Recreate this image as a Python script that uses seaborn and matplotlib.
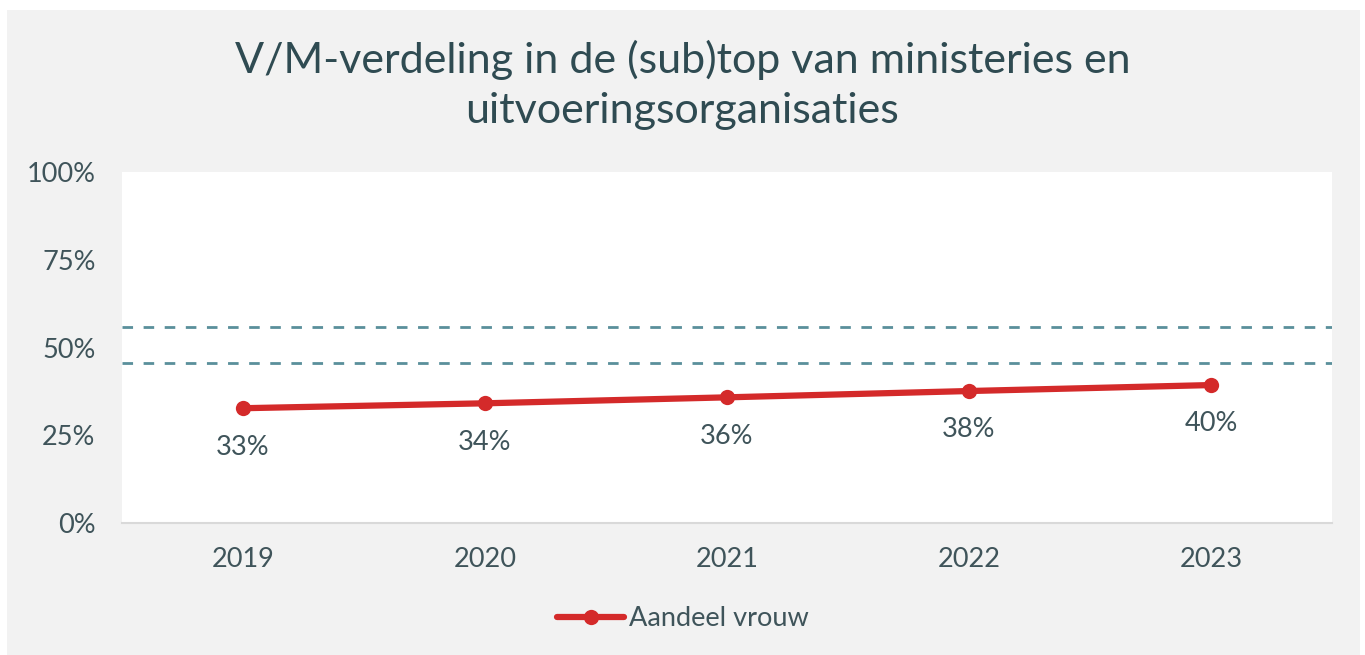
import matplotlib
matplotlib.use("Agg")
import matplotlib.pyplot as plt
import seaborn as sns
import pandas as pd
from matplotlib.patches import Rectangle

years = ["2019", "2020", "2021", "2022", "2023"]
share_women = [32.7, 34.1, 35.8, 37.6, 39.3]
value_labels = ["33%", "34%", "36%", "38%", "40%"]
band_lines = [45.7, 55.7]
y_ticks = [0, 25, 50, 75, 100]
series_name = "Aandeel vrouw"
title = "V/M-verdeling in de (sub)top van ministeries en\nuitvoeringsorganisaties"

sns.set_style("white")
plt.rcParams['font.family'] = ['Lato', 'DejaVu Sans']

TEXT = "#3f545a"
RED = "#d42a2a"
TEAL = "#5a8f9b"
BG = "#f2f2f2"
FS = 19.5

fig = plt.figure(figsize=(13.65, 6.55), dpi=100)
fig.patch.set_facecolor("white")
fig.add_artist(Rectangle((7 / 1365, 0), (1360 - 7) / 1365, 1 - 10 / 655,
                         transform=fig.transFigure, facecolor=BG, edgecolor="none", zorder=-10))

ax = fig.add_axes([122 / 1365, 1 - 523 / 655, (1332 - 122) / 1365, (523 - 172) / 655])
ax.set_facecolor("white")

df = pd.DataFrame({"year": years, "share": share_women, "serie": series_name})

for v in band_lines:
    ax.axhline(v, color=TEAL, lw=2, dashes=(3.8, 3.8), zorder=1)

sns.lineplot(data=df, x="year", y="share", hue="serie", palette=[RED], marker="o",
             markersize=11, markeredgewidth=0, linewidth=4.5, ax=ax, zorder=3, sort=False)

for i, (v, lab) in enumerate(zip(share_women, value_labels)):
    ax.annotate(lab, (i, v), xytext=(0, -28), textcoords="offset points",
                ha="center", va="center", fontsize=FS, color=TEXT)

ax.set_xlim(-0.5, 4.5)
ax.set_ylim(0, 100)
ax.set_yticks(y_ticks)
ax.set_yticklabels([f"{t}%" for t in y_ticks])
ax.tick_params(axis="y", length=0, pad=19, labelsize=FS, labelcolor=TEXT)
ax.tick_params(axis="x", length=0, pad=17, labelsize=FS, labelcolor=TEXT)
ax.set_xlabel("")
ax.set_ylabel("")
for s in ["left", "right", "top"]:
    ax.spines[s].set_visible(False)
ax.spines["bottom"].set_color("#d9d9d9")
ax.spines["bottom"].set_linewidth(1.5)

fig.text(0.5, 1 - 85 / 655, title, ha="center", va="center", fontsize=31,
         color="#2f4b52", linespacing=1.36)

leg = ax.legend(loc="center", bbox_to_anchor=(0.5, 1 - 619 / 655), bbox_transform=fig.transFigure,
                frameon=False, fontsize=FS, handlelength=2.5, handletextpad=0.15)
for t in leg.get_texts():
    t.set_color(TEXT)

fig.savefig("out.png", dpi=100, facecolor=fig.get_facecolor())
